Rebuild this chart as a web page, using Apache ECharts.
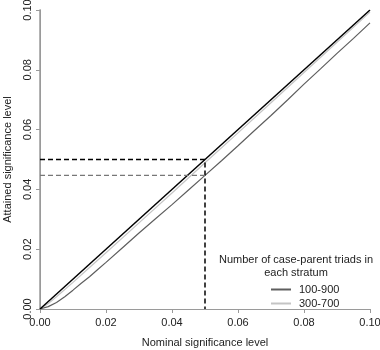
<!DOCTYPE html>
<html><head><meta charset="utf-8">
<script src="https://cdn.jsdelivr.net/npm/echarts@6/dist/echarts.min.js"></script>
<style>html,body{margin:0;padding:0;background:#fff}#c{width:380px;height:350px}</style>
</head><body><div id="c"></div>
<script>
const xTicks = [0, 0.02, 0.04, 0.06, 0.08, 0.10];
const identity = [[0, 0], [0.1, 0.1]];
const s100_900 = [[0,0],[0.0025,0.0008],[0.005,0.0022],[0.0075,0.0041],[0.01,0.0063],[0.0125,0.0086],[0.015,0.0108],[0.0175,0.0132],[0.02,0.0156],[0.025,0.0205],[0.03,0.0254],[0.035,0.0302],[0.04,0.0349],[0.045,0.0398],[0.05,0.0447],[0.055,0.0496],[0.06,0.0546],[0.065,0.0597],[0.07,0.0647],[0.075,0.0699],[0.08,0.0752],[0.085,0.0803],[0.09,0.0855],[0.095,0.0905],[0.1,0.0957]];
const s300_700 = [[0,0],[0.0025,0.0018],[0.005,0.0041],[0.01,0.0089],[0.015,0.0139],[0.02,0.0188],[0.03,0.0288],[0.04,0.0388],[0.05,0.0489],[0.06,0.0589],[0.07,0.0690],[0.08,0.0791],[0.09,0.0892],[0.1,0.0993]];
const nominalRef = [[0, 0.05], [0.05, 0.05], [0.05, 0]];
const attainedRef = [[0, 0.0447], [0.05, 0.0447]];
const legendTitle = 'Number of case-parent triads in\neach stratum';
const FONT = 'Liberation Sans, Arial, sans-serif';
const chart = echarts.init(document.getElementById('c'), null, {renderer:'canvas'});
const axisGray = '#9a9a9a';
chart.setOption({
  animation: false,
  backgroundColor: '#fff',
  grid: {left: 40, right: 10, top: 10, bottom: 41, containLabel: false, outerBoundsMode: 'none'},
  xAxis: [{
    type: 'value', min: 0, max: 0.1, interval: 0.02,
    name: 'Nominal significance level', nameLocation: 'middle', nameGap: 28,
    nameTextStyle: {fontFamily: FONT, fontSize: 11, color: '#222'},
    axisLine: {show: true, lineStyle: {color: '#aaaaaa', type: [3, 2], width: 1}},
    axisTick: {show: true, length: 4, lineStyle: {color: axisGray}},
    axisLabel: {fontFamily: FONT, fontSize: 11, color: '#222', margin: 8, formatter: v => v.toFixed(2)},
    splitLine: {show: false}
  }, {
    type: 'value', min: 0, max: 0.1, position: 'top',
    axisLine: {show: true, lineStyle: {color: axisGray}},
    axisTick: {show: false}, axisLabel: {show: false}, splitLine: {show: false}
  }],
  yAxis: [{
    type: 'value', min: 0, max: 0.1, interval: 0.02,
    name: 'Attained significance level', nameLocation: 'middle', nameGap: 27,
    nameTextStyle: {fontFamily: FONT, fontSize: 11, color: '#222'},
    axisLine: {show: true, lineStyle: {color: axisGray, width: 1.5}},
    axisTick: {show: true, length: 4, lineStyle: {color: axisGray}},
    axisLabel: {fontFamily: FONT, fontSize: 11, color: '#222', rotate: 90, margin: 7, formatter: v => v.toFixed(2)},
    splitLine: {show: false}
  }, {
    type: 'value', min: 0, max: 0.1, position: 'right',
    axisLine: {show: true, lineStyle: {color: axisGray}},
    axisTick: {show: false}, axisLabel: {show: false}, splitLine: {show: false}
  }],
  legend: {
    orient: 'vertical', left: 266, top: 279, itemGap: 3,
    itemWidth: 20, itemHeight: 2, icon: 'rect',
    textStyle: {fontFamily: FONT, fontSize: 11, color: '#222', padding: [0, 0, 0, 3]},
    data: ['100-900', '300-700']
  },
  graphic: [{
    type: 'text', x: 296, y: 253,
    style: {text: legendTitle, fontFamily: FONT, fontSize: 11, fill: '#222', textAlign: 'center', lineHeight: 13},
    z: 10
  }],
  series: [
    {name: 'identity', type: 'line', data: identity, symbol: 'none', lineStyle: {color: '#000', width: 1.5}, z: 5},
    {name: '300-700', type: 'line', data: s300_700, symbol: 'none', color: '#c4c4c4', lineStyle: {color: '#c4c4c4', width: 1.2}, z: 3},
    {name: '100-900', type: 'line', data: s100_900, symbol: 'none', color: '#5e5e5e', lineStyle: {color: '#5e5e5e', width: 1.2}, z: 4},
    {name: 'nominalRef', type: 'line', data: nominalRef, symbol: 'none', lineStyle: {color: '#000', width: 1.5, type: [5, 3]}, z: 6},
    {name: 'attainedRef', type: 'line', data: attainedRef, symbol: 'none', lineStyle: {color: '#777', width: 1.2, type: [5, 3]}, z: 6}
  ]
});
</script></body></html>
